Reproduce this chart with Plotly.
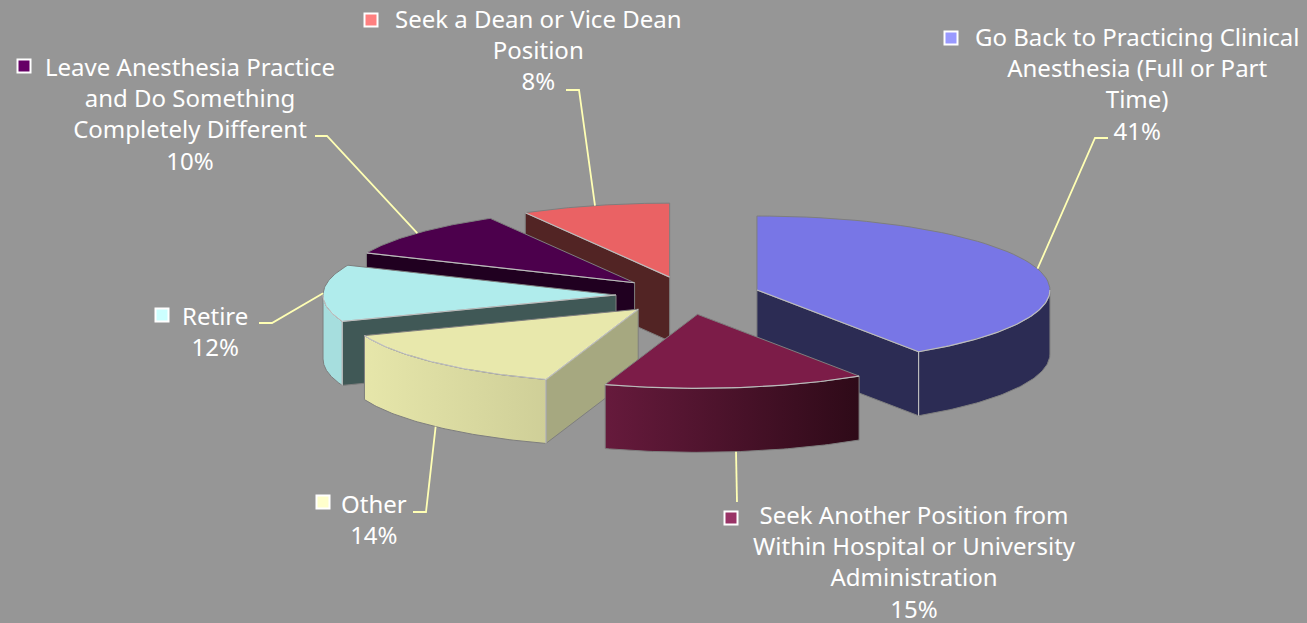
import math
import plotly.graph_objects as go

# ---------- data ----------
categories = ["Go Back to Practicing Clinical<br>Anesthesia (Full or Part<br>Time)",
              "Seek Another Position from<br>Within Hospital or University<br>Administration",
              "Other", "Retire",
              "Leave Anesthesia Practice<br>and Do Something<br>Completely Different",
              "Seek a Dean or Vice Dean<br>Position"]
values = [40.7, 14.4, 14.1, 12.4, 10.2, 8.2]
percent_labels = ["41%", "15%", "14%", "12%", "10%", "8%"]

# ---------- styles ----------
top_colors = ["#7876E6", "#7C1C48", "#E8E8AC", "#B0ECEC", "#4C004C", "#EA6264"]
cut_colors = ["#2C2C54", "#3E0E24", "#A6A880", "#405856", "#200020", "#522424"]
wall_left = ["#2C2C54", "#661A3C", "#E6E6AA", "#A6DEDE", "#200020", "#522424"]
wall_right = ["#2C2C54", "#2E0A18", "#CFCF98", "#A6DEDE", "#200020", "#522424"]
key_colors = ["#9999FF", "#993366", "#FFFFCC", "#CCFFFF", "#660066", "#FF8080"]
BG = "#969696"
LEADER = "#FFFFB4"
EDGE_LIGHT = "rgba(240,240,240,0.55)"
EDGE_DARK = "#7E7E7E"
FONT = "Noto Sans"
FONT_SIZE = 24

# pie projection (pixel space of the full-bleed axes)
CX, CY, RX, RY, DEPTH = 688, 295.5, 293, 74, 64
EX, EY = 72, 19
draw_order = [5, 4, 3, 2, 0, 1]

# label placement: block centre, key centre, leader elbow + end
label_pos = [(1137, 83.5), (914, 561), (374, 519), (215, 331), (190, 113), (538, 49.5)]
key_pos = [(951, 38), (731, 518), (323, 502), (162, 315), (24, 66), (371, 20)]
elbows = [((1095, 138), (1108, 138)), ((737, 502), (737, 502)), ((426, 512), (413, 512)),
          ((272, 323), (259, 323)), ((327, 136), (315, 136)), ((579, 90), (566, 90))]

total = sum(values)
bounds = [0]
for v in values:
    bounds.append(bounds[-1] + v / total * 360)

fig = go.Figure()


def poly(xs, ys, fill=None, gradient=None, line=None):
    kw = dict(x=xs, y=ys, mode="lines", fill="toself", hoverinfo="skip", showlegend=False,
              line=dict(color=line or EDGE_DARK, width=1))
    if gradient:
        kw["fillgradient"] = dict(type="horizontal", colorscale=[[0, gradient[0]], [1, gradient[1]]])
    else:
        kw["fillcolor"] = fill
    fig.add_trace(go.Scatter(**kw))


def edge(xs, ys, color=EDGE_LIGHT, width=1.2):
    fig.add_trace(go.Scatter(x=xs, y=ys, mode="lines", hoverinfo="skip", showlegend=False,
                             line=dict(color=color, width=width)))


def centre(i):
    m = math.radians((bounds[i] + bounds[i + 1]) / 2)
    return CX + EX * math.sin(m), CY - EY * math.cos(m)


def pt(c, t):
    r = math.radians(t)
    return c[0] + RX * math.sin(r), c[1] - RY * math.cos(r)


def arc(c, a, b, n=60):
    pts = [pt(c, a + (b - a) * k / n) for k in range(n + 1)]
    return [p[0] for p in pts], [p[1] for p in pts]


for i in draw_order:
    c = centre(i)
    t0, t1 = bounds[i], bounds[i + 1]

    # flat cut faces turned towards the viewer
    for t, visible in ((t1, 0 < t1 < 180), (t0, 180 < t0 < 360)):
        if visible:
            p = pt(c, t)
            poly([c[0], p[0], p[0], c[0], c[0]],
                 [c[1], p[1], p[1] + DEPTH, c[1] + DEPTH, c[1]], fill=cut_colors[i])

    # outer rounded wall (front half only)
    a, b = max(t0, 90), min(t1, 270)
    if a < b:
        ax, ay = arc(c, a, b)
        poly(ax + ax[::-1] + [ax[0]], ay + [y + DEPTH for y in ay[::-1]] + [ay[0]],
             gradient=(wall_left[i], wall_right[i]))

    # top face
    ax, ay = arc(c, t0, t1)
    poly([c[0]] + ax + [c[0]], [c[1]] + ay + [c[1]], fill=top_colors[i])

    # highlights
    if a < b:
        fx, fy = arc(c, a, b)
        edge(fx, fy)
    if 0 < t1 < 180:
        p = pt(c, t1)
        edge([c[0], p[0]], [c[1], p[1]])
        edge([p[0], p[0]], [p[1], p[1] + DEPTH])
    if 180 < t0 < 360:
        p = pt(c, t0)
        edge([c[0], p[0]], [c[1], p[1]])
        if t0 < 270:
            edge([p[0], p[0]], [p[1], p[1] + DEPTH])

# leader lines, anchored on each slice's mid-angle rim
for i in range(len(values)):
    c = centre(i)
    m = (bounds[i] + bounds[i + 1]) / 2
    p = pt(c, m)
    y0 = p[1] + (DEPTH if 90 < m < 270 else 0)
    (ex, ey), (fx, fy) = elbows[i]
    edge([p[0], ex, fx], [y0, ey, fy], color=LEADER, width=1.8)

# legend keys
fig.add_trace(go.Scatter(x=[k[0] for k in key_pos], y=[k[1] for k in key_pos], mode="markers",
                         hoverinfo="skip", showlegend=False,
                         marker=dict(symbol="square", size=13, color=key_colors,
                                     line=dict(color="white", width=2))))

# labels
for cat, pct, (lx, ly) in zip(categories, percent_labels, label_pos):
    fig.add_annotation(x=lx, y=ly, xref="x", yref="y", text=f"{cat}<br>{pct}", showarrow=False,
                       xanchor="center", yanchor="middle", align="center",
                       font=dict(family=FONT, size=FONT_SIZE, color="white"))

fig.update_layout(width=1307, height=623, margin=dict(l=0, r=0, t=0, b=0),
                  paper_bgcolor=BG, plot_bgcolor=BG, showlegend=False,
                  xaxis=dict(range=[0, 1307], visible=False, fixedrange=True),
                  yaxis=dict(range=[623, 0], visible=False, fixedrange=True))

fig.write_html("out.html", post_script="document.body.style.margin='0';",
               config={"displayModeBar": False})
